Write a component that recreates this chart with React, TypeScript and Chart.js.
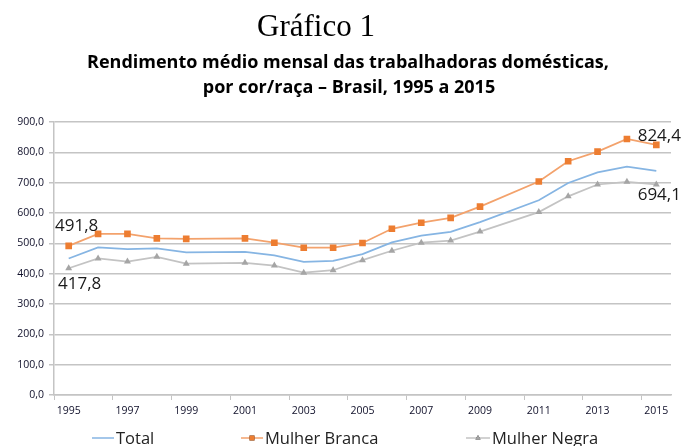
import { useEffect, useRef } from 'react';
import { Chart, registerables } from 'chart.js';
import { drawPoint } from 'chart.js/helpers';

Chart.register(...registerables);

const titleText = 'Gráfico 1';
const subtitleLines = [
  'Rendimento médio mensal das trabalhadoras domésticas,',
  'por cor/raça – Brasil, 1995 a 2015',
];

const years = [
  '1995', '1996', '1997', '1998', '1999', '2000', '2001', '2002', '2003', '2004', '2005',
  '2006', '2007', '2008', '2009', '2010', '2011', '2012', '2013', '2014', '2015',
];

const total = [
  450, 486.5, 481, 483, 470, null, 472, 460, 439, 442, 464.5,
  503, 525.5, 538, 570, null, 642, 699, 734, 752.5, 739,
];

const mulherBranca = [
  491.8, 531, 531, 516.5, 514.5, null, 516.5, 502, 485.5, 485.5, 501,
  548, 568, 584, 621, null, 704, 770.5, 802.5, 844, 824.4,
];

const mulherNegra = [
  417.8, 450, 440, 455.6, 433, null, 435.6, 426.7, 403.4, 411.4, 444.6,
  475.6, 502, 509, 538.7, null, 603, 655, 694, 702.7, 694.1,
];

const seriesNames = ['Total', 'Mulher Branca', 'Mulher Negra'];

const yMin = 0;
const yMax = 900;
const yStep = 100;

// which points carry a value label (dataset index, point index, offset)
const valueLabels = [
  { ds: 1, i: 0, dx: 8, dy: -20 },
  { ds: 2, i: 0, dx: 11, dy: 16 },
  { ds: 1, i: 20, dx: 3, dy: -9 },
  { ds: 2, i: 20, dx: 3, dy: 11 },
];

const GRID = '#C4C4C4';
const TEXT = '#10102a';

const fmt = (v: number) => v.toFixed(1).replace('.', ',');

const decorPlugin = {
  id: 'decor',
  afterDraw(chart: any) {
    const ctx = chart.ctx as CanvasRenderingContext2D;
    ctx.save();
    ctx.fillStyle = '#000';
    ctx.textAlign = 'center';
    ctx.textBaseline = 'alphabetic';
    ctx.font = '31px "Liberation Serif"';
    ctx.fillText(titleText, 316, 36);
    ctx.font = 'bold 18px "Open Sans"';
    ctx.fillText(subtitleLines[0], 348, 68);
    ctx.fillText(subtitleLines[1], 349, 93);

    // legend
    const items = [
      { x0: 92, x1: 114 },
      { x0: 241, x1: 263 },
      { x0: 466, x1: 490 },
    ];
    const ly = 438;
    ctx.font = '16.5px "Open Sans"';
    ctx.textAlign = 'left';
    ctx.fillStyle = '#222';
    items.forEach((it, k) => {
      const ds = chart.data.datasets[k];
      ctx.strokeStyle = ds.borderColor;
      ctx.lineWidth = 1.5;
      ctx.beginPath();
      ctx.moveTo(it.x0, ly);
      ctx.lineTo(it.x1, ly);
      ctx.stroke();
      if (ds.pointStyle && ds.pointRadius > 0) {
        drawPoint(
          ctx,
          {
            pointStyle: ds.pointStyle,
            radius: ds.pointRadius * 0.75,
            rotation: 0,
            borderWidth: 0,
          } as any,
          (it.x0 + it.x1) / 2,
          ly
        );
        ctx.fillStyle = ds.pointBackgroundColor;
        ctx.fill();
        ctx.fillStyle = '#222';
      }
      ctx.fillText(seriesNames[k], it.x1 + 2, 444);
    });

    // value labels
    ctx.font = '17px "Open Sans"';
    ctx.textAlign = 'center';
    ctx.textBaseline = 'middle';
    ctx.fillStyle = '#1a1a1a';
    valueLabels.forEach((l) => {
      const meta = chart.getDatasetMeta(l.ds);
      const el = meta.data[l.i];
      const v = chart.data.datasets[l.ds].data[l.i];
      if (!el || v == null) return;
      ctx.fillText(fmt(v), el.x + l.dx, el.y + l.dy);
    });
    ctx.restore();
  },
};

export default function App() {
  const ref = useRef<HTMLCanvasElement | null>(null);

  useEffect(() => {
    if (!ref.current) return;
    const chart = new Chart(ref.current, {
      type: 'line',
      data: {
        labels: years,
        datasets: [
          {
            label: seriesNames[0],
            data: total,
            borderColor: '#86B5E3',
            backgroundColor: '#86B5E3',
            borderWidth: 1.75,
            pointRadius: 0,
            pointStyle: false as any,
            spanGaps: true,
            tension: 0,
          },
          {
            label: seriesNames[1],
            data: mulherBranca,
            borderColor: '#F3A26C',
            backgroundColor: '#ED7D31',
            borderWidth: 1.75,
            pointStyle: 'rect',
            pointRadius: 4.7,
            pointBackgroundColor: '#ED7D31',
            pointBorderColor: '#ED7D31',
            pointBorderWidth: 0,
            spanGaps: true,
            tension: 0,
          },
          {
            label: seriesNames[2],
            data: mulherNegra,
            borderColor: '#C3C3C3',
            backgroundColor: '#A5A5A5',
            borderWidth: 1.75,
            pointStyle: 'triangle',
            pointRadius: 4,
            pointBackgroundColor: '#A5A5A5',
            pointBorderColor: '#A5A5A5',
            pointBorderWidth: 0,
            spanGaps: true,
            tension: 0,
          },
        ],
      },
      options: {
        responsive: false,
        animation: false,
        events: [],
        layout: { padding: { top: 122, right: 10, bottom: 0, left: 0 } },
        plugins: {
          legend: { display: false },
          title: { display: false },
          tooltip: { enabled: false },
        },
        scales: {
          x: {
            type: 'category',
            offset: true,
            afterFit: (s: any) => {
              s.height = 51;
            },
            grid: {
              offset: true,
              drawOnChartArea: false,
              drawTicks: true,
              tickLength: 5,
              tickColor: (c: any) => (c.index % 2 === 0 ? GRID : 'rgba(0,0,0,0)'),
            },
            border: { display: true, color: GRID, width: 1.5 },
            ticks: {
              autoSkip: false,
              maxRotation: 0,
              minRotation: 0,
              padding: 5,
              color: TEXT,
              font: { family: '"Open Sans"', size: 10.5 },
              callback: (_v: any, i: number) => (i % 2 === 0 ? years[i] : ''),
            },
          },
          y: {
            min: yMin,
            max: yMax,
            afterFit: (s: any) => {
              s.width = 54;
            },
            grid: {
              color: GRID,
              lineWidth: 1.5,
              tickLength: 5,
            },
            border: { display: true, color: GRID, width: 1.5 },
            ticks: {
              stepSize: yStep,
              padding: 5,
              color: TEXT,
              font: { family: '"Open Sans"', size: 10.5 },
              callback: (v: any) => fmt(Number(v)),
            },
          },
        },
      },
      plugins: [decorPlugin],
    });
    return () => chart.destroy();
  }, []);

  return (
    <div style={{ position: 'absolute', left: 0, top: 0, width: 681, height: 446, background: '#fff' }}>
      <canvas ref={ref} width={681} height={446} style={{ display: 'block' }} />
    </div>
  );
}
